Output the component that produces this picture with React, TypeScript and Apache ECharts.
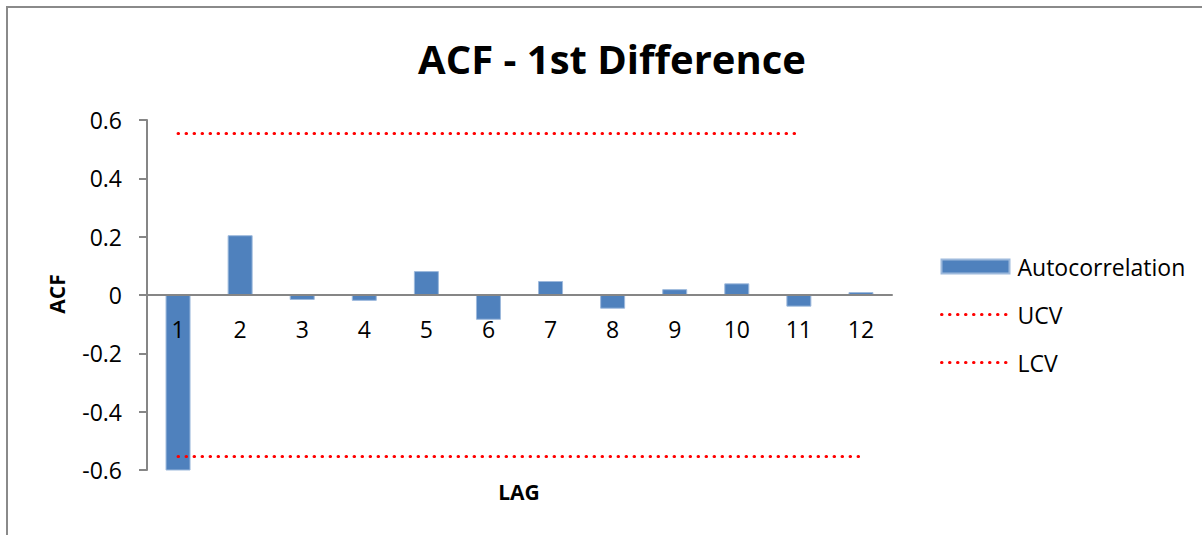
import React, { useEffect, useRef } from "react";
import * as echarts from "echarts";

const lags = ["1", "2", "3", "4", "5", "6", "7", "8", "9", "10", "11", "12"];
const autocorrelation = [-0.605, 0.205, -0.017, -0.02, 0.082, -0.085, 0.048, -0.047, 0.02, 0.04, -0.04, 0.01];
const ucv = [0.554, 0.554, 0.554, 0.554, 0.554, 0.554, 0.554, 0.554, 0.554, 0.554, 0.554, null];
const lcv = [-0.554, -0.554, -0.554, -0.554, -0.554, -0.554, -0.554, -0.554, -0.554, -0.554, -0.554, -0.554];
const yTicks = { min: -0.6, max: 0.6, interval: 0.2 };

const FONT = "'Open Sans', 'Noto Sans', sans-serif";

export default function App() {
  const ref = useRef<HTMLDivElement>(null);
  useEffect(() => {
    if (!ref.current) return;
    const chart = echarts.init(ref.current, null, { renderer: "svg" });
    const dotted = { color: "#ff0000", width: 3, type: [0.5, 7.5] as any, cap: "round" as any };
    const legendLine = { color: "#ff0000", width: 3, type: [0.5, 7.5] as any, cap: "round" as any };
    chart.setOption({
      animation: false,
      backgroundColor: "#ffffff",
      textStyle: { fontFamily: FONT },
      title: {
        text: "ACF - 1st Difference",
        left: 607,
        textAlign: "center",
        top: 33,
        textStyle: { fontSize: 40, fontWeight: "bold", color: "#000", fontFamily: FONT },
      },
      grid: { left: 147, right: 310, top: 120, bottom: 65, containLabel: false },
      legend: {
        orient: "vertical",
        left: 935,
        top: 250,
        itemWidth: 68,
        itemHeight: 14,
        itemGap: 25,
        textStyle: { fontSize: 23, color: "#000", fontFamily: FONT, padding: [0, 0, 0, 3] },
        data: [
          { name: "Autocorrelation", icon: "rect" },
          { name: "UCV", itemStyle: { opacity: 0, color: "transparent" }, lineStyle: legendLine },
          { name: "LCV", itemStyle: { opacity: 0, color: "transparent" }, lineStyle: legendLine },
        ],
      },
      xAxis: {
        type: "category",
        data: lags,
        boundaryGap: true,
        position: "bottom",
        offset: -175,
        z: 10,
        axisLine: { onZero: false, lineStyle: { color: "#868686", width: 2 } },
        axisTick: { show: false },
        axisLabel: { fontSize: 23, color: "#000", margin: 22, fontFamily: FONT },
      },
      yAxis: {
        type: "value",
        min: yTicks.min,
        max: yTicks.max,
        interval: yTicks.interval,
        splitLine: { show: false },
        axisLine: { show: true, lineStyle: { color: "#868686", width: 2 } },
        axisTick: { show: true, inside: false, length: 8, lineStyle: { color: "#868686", width: 2 } },
        axisLabel: {
          fontSize: 23,
          color: "#000",
          margin: 25,
          fontFamily: FONT,
          formatter: (v: number) => String(Math.round(v * 10) / 10),
        },
      },
      series: [
        {
          name: "Autocorrelation",
          type: "bar",
          data: autocorrelation,
          barWidth: 25,
          itemStyle: { color: "#4f81bd", borderColor: "#9db9dc", borderWidth: 1 },
        },
        {
          name: "UCV",
          type: "line",
          data: ucv,
          symbol: "none",
          lineStyle: dotted,
          itemStyle: { color: "#ff0000" },
        },
        {
          name: "LCV",
          type: "line",
          data: lcv,
          symbol: "none",
          lineStyle: dotted,
          itemStyle: { color: "#ff0000" },
        },
      ],
      graphic: [
        {
          type: "rect",
          shape: { x: 7, y: 7, width: 1400, height: 800 },
          style: { fill: "none", stroke: "#8a8a8a", lineWidth: 2 },
          silent: true,
        },
        {
          type: "text",
          x: 57,
          y: 294,
          rotation: Math.PI / 2,
          style: {
            text: "ACF",
            fontSize: 21,
            fontWeight: "bold",
            fill: "#000",
            fontFamily: FONT,
            align: "center",
            verticalAlign: "middle",
          },
        },
        {
          type: "text",
          x: 519,
          y: 492,
          style: {
            text: "LAG",
            fontSize: 21,
            fontWeight: "bold",
            fill: "#000",
            fontFamily: FONT,
            align: "center",
            verticalAlign: "middle",
          },
        },
      ],
    });
    return () => chart.dispose();
  }, []);
  return (
    <div
      ref={ref}
      style={{ position: "absolute", left: 0, top: 0, width: 1202, height: 535 }}
    />
  );
}
